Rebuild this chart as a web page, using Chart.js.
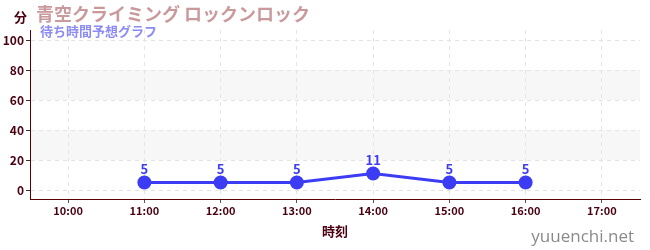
<!DOCTYPE html>
<html><head><meta charset="utf-8">
<script src="https://cdn.jsdelivr.net/npm/chart.js@4/dist/chart.umd.min.js"></script>
<style>html,body{margin:0;padding:0;background:#fff}#wrap{width:650px;height:250px}</style>
</head><body><div id="wrap"><canvas id="c" width="650" height="250"></canvas></div>
<script>
const titleText = '青空クライミング ロックンロック';
const subtitleText = '待ち時間予想グラフ';
const yUnit = '分';
const xTitle = '時刻';
const siteText = 'yuuenchi.net';
const times = ['11:00','12:00','13:00','14:00','15:00','16:00'];
const waits = [5, 5, 5, 11, 5, 5];
const xTickHours = [10, 11, 12, 13, 14, 15, 16, 17];
const yTickValues = [0, 10, 20, 30, 40, 50, 60, 70, 80, 90, 100];
const bands = [[20, 40], [60, 80]];

const FONT = '"Noto Sans CJK JP", "Noto Sans", sans-serif';
const toHour = s => { const [h, m] = s.split(':').map(Number); return h + m / 60; };
const points = times.map((t, i) => ({ x: toHour(t), y: waits[i] }));

const deco = {
  id: 'deco',
  beforeDraw(chart) {
    const { ctx, chartArea: a, scales: { y } } = chart;
    ctx.save();
    ctx.fillStyle = '#f7f7f7';
    bands.forEach(([lo, hi]) => {
      const t = y.getPixelForValue(hi), b = y.getPixelForValue(lo);
      ctx.fillRect(a.left, t, a.right - a.left, b - t);
    });
    ctx.restore();
  },
  afterDatasetsDraw(chart) {
    const { ctx } = chart;
    const meta = chart.getDatasetMeta(0);
    ctx.save();
    ctx.fillStyle = '#3c3cf0';
    ctx.font = 'bold 13px ' + FONT;
    ctx.textAlign = 'center';
    ctx.textBaseline = 'bottom';
    meta.data.forEach((p, i) => ctx.fillText(String(waits[i]), p.x, p.y - 7));
    ctx.restore();
  },
  afterDraw(chart) {
    const { ctx, chartArea: a } = chart;
    ctx.save();
    ctx.textBaseline = 'alphabetic';
    ctx.textAlign = 'left';
    ctx.fillStyle = '#c9999b';
    ctx.font = 'bold 18px ' + FONT;
    ctx.fillText(titleText, 36, 21);
    ctx.fillStyle = '#8c8cf5';
    ctx.font = 'bold 13px ' + FONT;
    ctx.fillText(subtitleText, 40, 36);
    ctx.fillStyle = '#4a0010';
    ctx.font = 'bold 13px ' + FONT;
    ctx.fillText(yUnit, 14, 22);
    ctx.textAlign = 'center';
    ctx.fillText(xTitle, (a.left + a.right) / 2, 236);
    ctx.textAlign = 'right';
    ctx.fillStyle = '#8a8a8a';
    ctx.font = '17px "Open Sans", "Noto Sans", sans-serif';
    ctx.fillText(siteText, 634, 242);
    ctx.restore();
  }
};

new Chart(document.getElementById('c'), {
  type: 'line',
  data: {
    datasets: [{
      data: points,
      borderColor: '#3c3cf5',
      backgroundColor: '#3c3cf5',
      borderWidth: 3,
      pointRadius: 5.5,
      pointHoverRadius: 5.5,
      tension: 0,
      fill: false
    }]
  },
  options: {
    responsive: false,
    animation: false,
    events: [],
    layout: { padding: { left: 0, right: 10, top: 30, bottom: 0 } },
    plugins: { legend: { display: false }, tooltip: { enabled: false } },
    scales: {
      x: {
        type: 'linear',
        min: 9.5, max: 17.5,
        afterBuildTicks: s => { s.ticks = xTickHours.map(v => ({ value: v })); },
        afterFit: s => { s.height = 51; },
        ticks: {
          color: '#4a0010',
          font: { family: FONT, size: 11, weight: 'bold' },
          padding: 1,
          maxRotation: 0,
          callback: v => v + ':00'
        },
        grid: { color: '#e4e4e4', tickColor: '#555', tickLength: 4, lineWidth: 1, drawOnChartArea: true },
        border: { color: '#5a0000', width: 1, dash: [4, 4] }
      },
      y: {
        min: -6, max: 106.67,
        afterBuildTicks: s => { s.ticks = yTickValues.map(v => ({ value: v })); },
        afterFit: s => { s.width = 30; },
        ticks: {
          color: '#4a0010',
          font: { family: FONT, size: 12, weight: 'bold' },
          padding: 2,
          callback: v => (v % 20 === 0 ? String(v) : '')
        },
        grid: {
          color: c => (c.tick && c.tick.value % 20 === 0 ? '#e4e4e4' : 'rgba(0,0,0,0)'),
          tickColor: c => (c.tick && c.tick.value % 20 === 0 ? '#333' : '#e02020'),
          tickLength: 4,
          lineWidth: 1
        },
        border: { color: '#5a0000', width: 1, dash: [4, 4] }
      }
    }
  },
  plugins: [deco]
});
</script>
</body></html>
